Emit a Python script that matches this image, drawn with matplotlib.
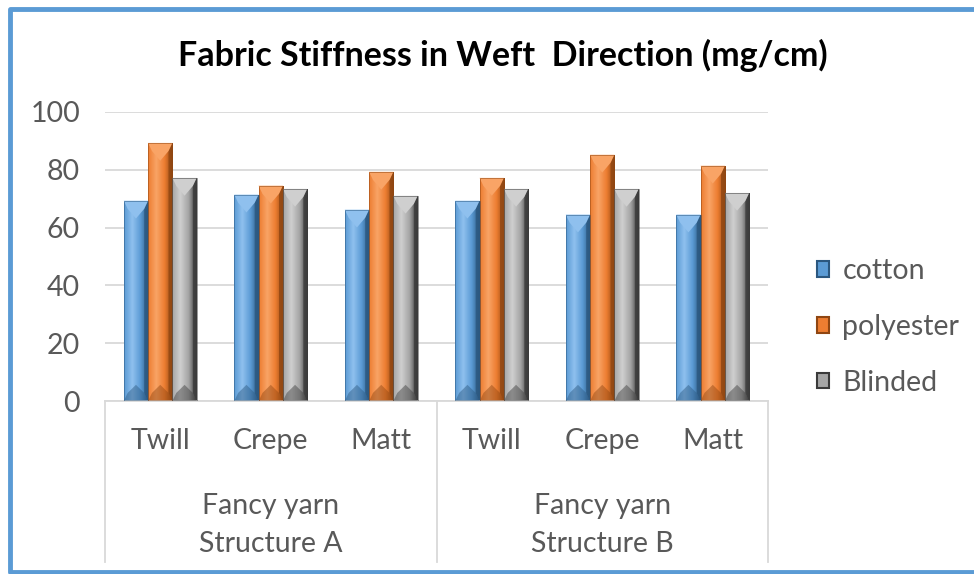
import numpy as np
import matplotlib
matplotlib.use("Agg")
import matplotlib.pyplot as plt
from matplotlib.patches import Polygon, Rectangle
from matplotlib.colors import LinearSegmentedColormap
import matplotlib.transforms as mtransforms

plt.rcParams['font.family'] = ['Lato', 'DejaVu Sans']

# data
structures = ["Fancy yarn\nStructure A", "Fancy yarn\nStructure B"]
weaves = ["Twill", "Crepe", "Matt", "Twill", "Crepe", "Matt"]
series_names = ["cotton", "polyester", "Blinded"]
cotton = [69.3, 71.4, 66.2, 69.3, 64.5, 64.5]
polyester = [89.3, 74.5, 79.3, 77.2, 85.2, 81.4]
blinded = [77.2, 73.4, 71.0, 73.4, 73.4, 72.0]
yticks = [0, 20, 40, 60, 80, 100]

# light, base, dark shades for the bevel look
shades = [("#8fc0ee", "#5b9bd5", "#2b577f"),
          ("#f9a466", "#ed7d31", "#8f4612"),
          ("#cfcfcf", "#a5a5a5", "#3a3a3a")]

fig = plt.figure(figsize=(9.74, 5.74), dpi=100)
ax = fig.add_axes([105/974, 1-401/574, (768-105)/974, (401-112)/574])

x = np.arange(len(weaves))
bw = 0.22
txt = "#595959"
fs = 20.5

def bevel_bar(ax, rect, light, base, dark):
    x0, w, h = rect.get_x(), rect.get_width(), rect.get_height()
    cmap = LinearSegmentedColormap.from_list("g", [base, light, base, dark])
    im = ax.imshow(np.linspace(0, 1, 64).reshape(1, -1), cmap=cmap, aspect="auto",
                   extent=(x0, x0 + w, 0, h), zorder=2, interpolation="bilinear")
    im.set_clip_path(rect)
    b = w * 0.16
    v = 2.8
    ax.add_patch(Polygon([(x0 + w, 0), (x0 + w - b, v), (x0 + w - b, h - v), (x0 + w, h)],
                         closed=True, fc=dark, ec="none", alpha=0.8, zorder=3))
    ax.add_patch(Polygon([(x0, h), (x0 + w, h), (x0 + w - b, h - v), (x0 + w / 2, h - 2.2 * v),
                          (x0 + b, h - v)],
                         closed=True, fc=light, ec="none", zorder=3))
    ax.add_patch(Polygon([(x0, 0), (x0 + w, 0), (x0 + w - b, v), (x0 + w / 2, 2 * v), (x0 + b, v)],
                         closed=True, fc=dark, ec="none", alpha=0.45, zorder=3))
    ax.add_patch(Rectangle((x0, 0), w, h, fc="none", ec=dark, lw=0.6, alpha=0.6, zorder=4))

handles = []
for i, vals in enumerate([cotton, polyester, blinded]):
    light, base, dark = shades[i]
    bars = ax.bar(x + (i - 1) * bw, vals, bw, color=base, zorder=2, label=series_names[i])
    for r in bars:
        bevel_bar(ax, r, light, base, dark)
    handles.append(Rectangle((0, 0), 1, 1, fc=base, ec=dark, lw=1.5))

ax.set_xlim(-0.5, 5.5)
ax.set_ylim(0, 100)
ax.set_yticks(yticks)
ax.yaxis.grid(True, color="#d9d9d9", lw=1.3)
ax.set_axisbelow(True)
for s in ["left", "right", "top"]:
    ax.spines[s].set_visible(False)
ax.spines["bottom"].set_color("#d9d9d9")
ax.spines["bottom"].set_linewidth(1.3)
ax.tick_params(axis="y", length=0, labelsize=fs, labelcolor=txt, pad=18)
ax.set_xticks([])

# two-level category axis
trans = mtransforms.blended_transform_factory(ax.transData, ax.transAxes)
for xv in [-0.5, 2.5, 5.5]:
    ax.plot([xv, xv], [0, -161/289], transform=trans, color="#d9d9d9", lw=1.3, clip_on=False)
for xi, name in zip(x, weaves):
    ax.text(xi, -40/289, name, transform=trans, ha="center", va="center",
            fontsize=fs, color=txt)
for gi, name in enumerate(structures):
    ax.text(gi * 3 + 1, -124/289, name, transform=trans, ha="center", va="center",
            fontsize=fs, color=txt, linespacing=1.6)

fig.text(503/974, 1-55/574, "Fabric Stiffness in Weft  Direction (mg/cm)",
         ha="center", va="center", fontsize=24.5, fontweight="bold", color="black")

fig.legend(handles, series_names, loc="center left", bbox_to_anchor=(791/974, 1-327/574),
           frameon=False, fontsize=fs, labelcolor=txt, handlelength=0.45, handleheight=0.45,
           handletextpad=0.45, labelspacing=1.05)

# chart border
fig.add_artist(plt.Line2D([1.2, 10/974, 10/974, 1.2],
                          [1-9/574, 1-9/574, 1-572/574, 1-572/574],
                          transform=fig.transFigure, color="#5b9bd5", lw=3.5))

fig.savefig("out.png", dpi=100)
